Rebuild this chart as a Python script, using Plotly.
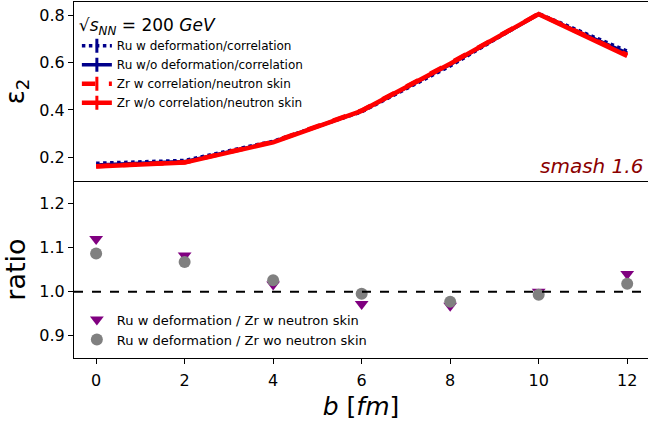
import plotly.graph_objects as go

b = [0, 2, 4, 6, 8, 10, 12]
ru_w = [0.175, 0.187, 0.268, 0.392, 0.585, 0.806, 0.648]
ru_wo = [0.168, 0.182, 0.265, 0.395, 0.592, 0.803, 0.640]
zr_w = [0.163, 0.179, 0.266, 0.398, 0.597, 0.805, 0.632]
zr_wo = [0.161, 0.178, 0.263, 0.396, 0.595, 0.804, 0.628]

ratio_w = [1.119, 1.082, 1.016, 0.972, 0.968, 1.000, 1.040]
ratio_wo = [1.086, 1.067, 1.026, 0.995, 0.977, 0.993, 1.018]

top_labels = ["Ru w deformation/correlation", "Ru w/o deformation/correlation",
              "Zr w correlation/neutron skin", "Zr w/o correlation/neutron skin"]
bot_labels = ["Ru w deformation / Zr w neutron skin", "Ru w deformation / Zr wo neutron skin"]

NAVY = "#00008B"
RED = "#FF0000"
FONT = "DejaVu Sans"

fig = go.Figure()

styles = [
    (ru_w, NAVY, "dot", 3.5),
    (ru_wo, NAVY, "solid", 3.5),
    (zr_w, RED, "dash", 4.5),
    (zr_wo, RED, "solid", 4.5),
]
for (vals, col, dash, w), lab in zip(styles, top_labels):
    fig.add_trace(go.Scatter(x=b, y=vals, mode="lines", line=dict(color=col, dash=dash, width=w),
                             showlegend=False, xaxis="x", yaxis="y"))
for (vals, col, dash, w), lab in zip(styles, top_labels):
    fig.add_trace(go.Scatter(x=[None], y=[None], mode="lines+markers", name=lab,
                             line=dict(color=col, dash=dash, width=w),
                             marker=dict(symbol="line-ns", size=10, line=dict(color=col, width=3)),
                             legend="legend", xaxis="x", yaxis="y"))

fig.add_trace(go.Scatter(x=b, y=ratio_w, mode="markers", name=bot_labels[0],
                         marker=dict(symbol="triangle-down", size=12, color="#800080"),
                         legend="legend2", xaxis="x2", yaxis="y2"))
fig.add_trace(go.Scatter(x=b, y=ratio_wo, mode="markers", name=bot_labels[1],
                         marker=dict(symbol="circle", size=12, color="#808080"),
                         legend="legend2", xaxis="x2", yaxis="y2"))

fig.add_shape(type="line", xref="x2 domain", yref="y2", x0=0, x1=1, y0=1.0, y1=1.0,
              line=dict(color="black", dash="dash", width=2))

fig.add_annotation(text="<i>smash 1.6</i>", xref="paper", yref="y", x=0.995, y=0.103,
                   xanchor="right", yanchor="bottom", showarrow=False,
                   font=dict(size=20, color="#8B0000", family=FONT))

axis_common = dict(showline=True, linecolor="black", linewidth=1.2, ticks="outside",
                   ticklen=5, tickcolor="black", showgrid=False, zeroline=False, automargin=False,
                   tickfont=dict(size=16, family=FONT, color="black"))

fig.update_layout(
    width=648, height=422,
    margin=dict(l=74, r=0, t=2, b=64, autoexpand=False),
    paper_bgcolor="white", plot_bgcolor="white",
    font=dict(family=FONT, color="black"),
    xaxis=dict(domain=[0, 1], range=[-0.5, 12.47], anchor="y", showticklabels=False,
               showline=True, linecolor="black", linewidth=1.2, mirror=True, ticks="",
               showgrid=False, zeroline=False, matches="x2", automargin=False),
    yaxis=dict(domain=[0.497, 1], range=[0.1, 0.855], anchor="x", tickvals=[0.2, 0.4, 0.6, 0.8],
               ticktext=["0.2", "0.4", "0.6", "0.8"],
               title=dict(text="ε<sub>2</sub>", font=dict(size=26, family=FONT), standoff=10),
               **axis_common),
    xaxis2=dict(domain=[0, 1], range=[-0.5, 12.47], anchor="y2", tickvals=b,
                title=dict(text="<i>b</i> [<i>fm</i>]", font=dict(size=25, family=FONT), standoff=8),
                mirror=False, ticklabelstandoff=3, **axis_common),
    yaxis2=dict(domain=[0, 0.497], range=[0.85, 1.25], anchor="x2",
                tickvals=[0.9, 1.0, 1.1, 1.2], ticktext=["0.9", "1.0", "1.1", "1.2"],
                title=dict(text="ratio", font=dict(size=27, family=FONT), standoff=8),
                **axis_common),
    legend=dict(x=0.005, y=0.98, xanchor="left", yanchor="top", bgcolor="rgba(0,0,0,0)",
                font=dict(size=12, family=FONT), tracegroupgap=0, itemwidth=30,
                title=dict(text="√<i>s<sub>NN</sub></i> = 200 <i>GeV</i>", font=dict(size=17, family=FONT))),
    legend2=dict(x=0.005, y=0.15, xanchor="left", yanchor="top", bgcolor="rgba(0,0,0,0)",
                 font=dict(size=13, family=FONT), tracegroupgap=0),
)

fig.write_html("out.html", config={"displayModeBar": False},
               post_script="document.body.style.margin='0';document.body.style.overflow='hidden';")
